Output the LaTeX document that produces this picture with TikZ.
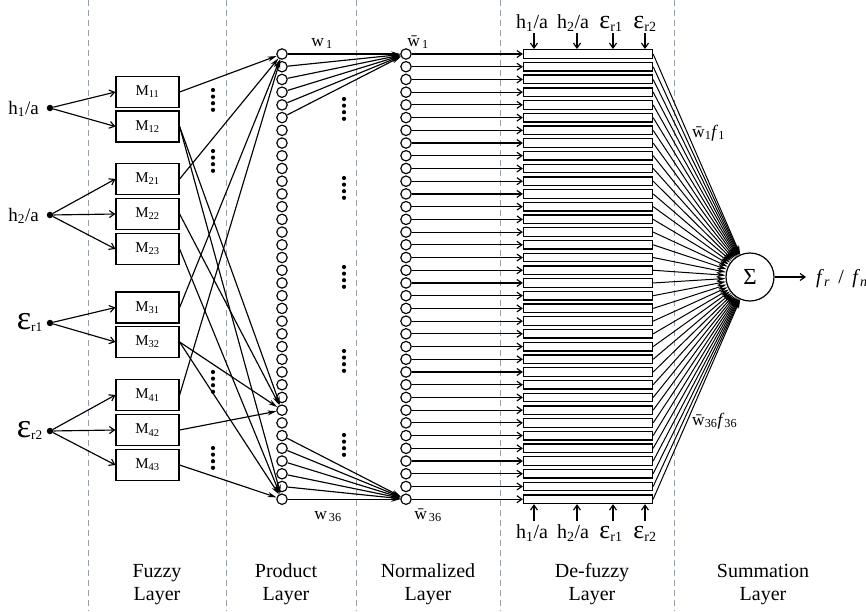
\documentclass[tikz,border=0pt]{standalone}
\usepackage{fontspec}
\usepackage{graphicx}
\setmainfont{Liberation Serif}
\usetikzlibrary{arrows.meta}

\definecolor{sepgray}{RGB}{150,160,170}

% enlarged epsilon with an upright subscript
\newcommand{\epsvar}[2]{\scalebox{#1}{ε}\textsubscript{r#2}}
\newcommand{\wb}{\={w}}

\tikzset{
  sepline/.style={draw=sepgray, line width=0.9pt, dash pattern=on 6pt off 4pt},
  mbox/.style={draw, line width=1.2pt, minimum width=63pt, minimum height=31pt,
    inner sep=0pt, font=\fontsize{15}{15}\selectfont},
  pnode/.style={circle, draw, line width=1.15pt, minimum size=10.4pt, inner sep=0pt},
  dbox/.style={draw, line width=1.3pt, minimum width=129pt, minimum height=8.6pt, inner sep=0pt},
  indot/.style={circle, fill, minimum size=6.5pt, inner sep=0pt},
  sumnode/.style={circle, draw, line width=1.2pt, minimum size=48pt, inner sep=0pt,
    font=\fontsize{23}{23}\selectfont},
  link/.style={line width=1.15pt},
  thinlink/.style={line width=1pt},
  openarrow/.style={-{Straight Barb[length=5pt,width=7pt]}},
  solidarrow/.style={-{Stealth[length=9pt,width=5pt]}},
  lbl/.style={inner sep=0pt, font=\fontsize{19}{19}\selectfont},
  toplbl/.style={inner sep=0pt, font=\fontsize{20}{20}\selectfont},
  wlbl/.style={inner sep=0pt, font=\fontsize{17.5}{17.5}\selectfont},
  layerlbl/.style={inner sep=0pt, align=center, font=\fontsize{20}{23}\selectfont},
}

\begin{document}
\begin{tikzpicture}[x=1pt,y=-1pt]
\useasboundingbox (0,0) rectangle (866,611);
\fill[white] (0,0) rectangle (866,611);

% layer separators
\foreach \x in {88.5,226,356,500,674}
  \draw[sepline] (\x,0) -- (\x,611);

% product, normalized and de-fuzzy columns
\foreach \i in {1,...,36} {
  \pgfmathsetmacro\yy{54+(\i-1)*12.72}
  \node[pnode] (p\i) at (282,\yy) {};
  \node[pnode] (n\i) at (406,\yy) {};
  \node[dbox] (d\i) at (588,\yy) {};
}

% summation node
\node[sumnode] (sig) at (750,277) {Σ};

% membership functions
\node[mbox] (m11) at (147.5,92) {M\textsubscript{11}};
\node[mbox] (m12) at (147.5,126.5) {M\textsubscript{12}};
\node[mbox] (m21) at (147.5,179) {M\textsubscript{21}};
\node[mbox] (m22) at (147.5,214) {M\textsubscript{22}};
\node[mbox] (m23) at (147.5,249) {M\textsubscript{23}};
\node[mbox] (m31) at (147.5,307.5) {M\textsubscript{31}};
\node[mbox] (m32) at (147.5,342) {M\textsubscript{32}};
\node[mbox] (m41) at (147.5,395) {M\textsubscript{41}};
\node[mbox] (m42) at (147.5,430) {M\textsubscript{42}};
\node[mbox] (m43) at (147.5,465) {M\textsubscript{43}};

% inputs
\node[indot] (h1) at (50,108) {};
\node[indot] (h2) at (50,215) {};
\node[indot] (e1) at (50,323) {};
\node[indot] (e2) at (50,431) {};
\node[lbl, anchor=base east] (h1t) at (39,114) {h\textsubscript{1}/a};
\node[lbl, anchor=base east] (h2t) at (39,221) {h\textsubscript{2}/a};
\node[lbl, anchor=base east] (e1t) at (43,329) {\epsvar{1.8}{1}};
\node[lbl, anchor=base east] (e2t) at (43,437) {\epsvar{1.8}{2}};

\foreach \a/\b in {h1/m11,h1/m12,h2/m21,h2/m22,h2/m23,e1/m31,e1/m32,e2/m41,e2/m42,e2/m43}
  \draw[link,openarrow] (\a) -- (\b.west);

% fuzzy layer to product layer
\foreach \a/\b in {m11/p1,m21/p1,m31/p1,m41/p1,
                   m12/p29,m22/p29,m32/p29,m42/p29,
                   m12/p36,m23/p36,m32/p36,m43/p36}
  \draw[link,solidarrow] (\a.east) -- (\b);

% product layer to normalized layer
\foreach \i in {1,...,6}
  \draw[link,solidarrow] (p\i) -- (n1);
\foreach \i in {31,...,36}
  \draw[link,solidarrow] (p\i) -- (n36);

% normalized layer to de-fuzzy layer, and on to the sum
\foreach \i in {1,...,36} {
  \draw[link,openarrow] (n\i) -- (d\i.west);
  \draw[thinlink,solidarrow] (d\i.east) -- (sig);
}

% output
\coordinate (out) at (806,277);
\draw[link,openarrow] (sig) -- (out);
\node[toplbl, anchor=base west] (outl) at (816,283)
  {\textit{f}\textsubscript{\textit{r}} \,/\, \textit{f}\textsubscript{\textit{nc}}};

% consequent inputs above and below the de-fuzzy layer
\foreach \x/\n in {534/1,577/2,613/3,645/4} {
  \coordinate (ts\n) at (\x,33);
  \coordinate (bs\n) at (\x,521);
  \draw[link,openarrow] (ts\n) -- (ts\n |- d1.north);
  \draw[link,openarrow] (bs\n) -- (bs\n |- d36.south);
}
\node[toplbl, anchor=base] (t1) at (532,28) {h\textsubscript{1}/a};
\node[toplbl, anchor=base] (t2) at (573,28) {h\textsubscript{2}/a};
\node[toplbl, anchor=base] (t3) at (611,28) {\epsvar{1.3}{1}};
\node[toplbl, anchor=base] (t4) at (645,28) {\epsvar{1.3}{2}};
\node[toplbl, anchor=base] (b1) at (532,538) {h\textsubscript{1}/a};
\node[toplbl, anchor=base] (b2) at (573,538) {h\textsubscript{2}/a};
\node[toplbl, anchor=base] (b3) at (611,538) {\epsvar{1.3}{1}};
\node[toplbl, anchor=base] (b4) at (645,538) {\epsvar{1.3}{2}};

% weights
\node[wlbl, anchor=base] (w1) at (322,46) {w\textsubscript{\,1}};
\node[wlbl, anchor=base] (w36) at (328,519) {w\textsubscript{\,36}};
\node[wlbl, anchor=base] (wb1) at (418,46) {\wb\textsubscript{\,1}};
\node[wlbl, anchor=base] (wb36) at (428,519) {\wb\textsubscript{\,36}};
\node[wlbl, anchor=base west] (wf1) at (692,137) {\wb\textsubscript{1}\textit{f}\textsubscript{1}};
\node[wlbl, anchor=base west] (wf36) at (692,425) {\wb\textsubscript{36}\textit{f}\textsubscript{36}};

% omitted rows
\foreach \x/\y in {213/90,213/151,213/372,213/448,344/99,344/178,344/267,344/351,344/435}
  \foreach \k in {0,...,3}
    \fill ({\x},{\y+\k*6.6}) circle (2.1pt);

% layer captions (base anchor sits on the second line)
\node[layerlbl, anchor=base] (l1) at (157,600) {Fuzzy\\Layer};
\node[layerlbl, anchor=base] (l2) at (286,600) {Product\\Layer};
\node[layerlbl, anchor=base] (l3) at (428,600) {Normalized\\Layer};
\node[layerlbl, anchor=base] (l4) at (592,600) {De-fuzzy\\Layer};
\node[layerlbl, anchor=base] (l5) at (763,600) {Summation\\Layer};
\end{tikzpicture}
\end{document}
